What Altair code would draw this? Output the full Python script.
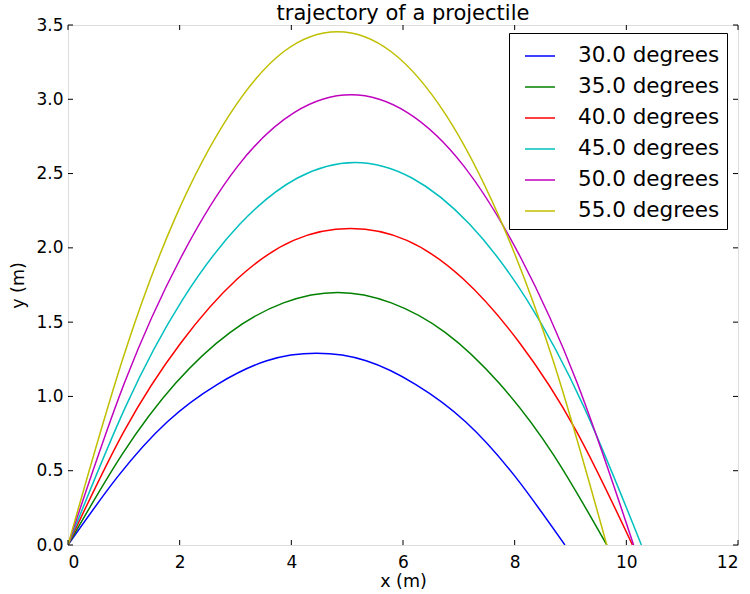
import altair as alt
import pandas as pd

labels = ["30.0 degrees", "35.0 degrees", "40.0 degrees", "45.0 degrees", "50.0 degrees", "55.0 degrees"]
colors = ["#0000ff", "#008000", "#ff0000", "#00bfbf", "#bf00bf", "#bfbf00"]

x30 = [0, 0.89, 1.78, 2.67, 3.56, 4.45, 5.34, 6.23, 7.12, 8.01, 8.90]
y30 = [0, 0.46, 0.83, 1.08, 1.24, 1.29, 1.24, 1.08, 0.83, 0.46, 0]
x35 = [0, 0.97, 1.93, 2.90, 3.86, 4.83, 5.79, 6.76, 7.72, 8.69, 9.65]
y35 = [0, 0.61, 1.09, 1.43, 1.63, 1.70, 1.63, 1.43, 1.09, 0.61, 0]
x40 = [0, 1.01, 2.02, 3.03, 4.04, 5.06, 6.07, 7.08, 8.09, 9.10, 10.11]
y40 = [0, 0.77, 1.36, 1.79, 2.05, 2.13, 2.05, 1.79, 1.36, 0.77, 0]
x45 = [0, 1.03, 2.05, 3.08, 4.11, 5.14, 6.16, 7.19, 8.22, 9.24, 10.27]
y45 = [0, 0.93, 1.65, 2.16, 2.47, 2.575, 2.47, 2.16, 1.65, 0.93, 0]
x50 = [0, 1.01, 2.03, 3.04, 4.05, 5.07, 6.08, 7.09, 8.10, 9.12, 10.13]
y50 = [0, 1.09, 1.94, 2.55, 2.91, 3.03, 2.91, 2.55, 1.94, 1.09, 0]
x55 = [0, 0.97, 1.93, 2.90, 3.86, 4.83, 5.79, 6.76, 7.72, 8.69, 9.65]
y55 = [0, 1.24, 2.21, 2.90, 3.32, 3.455, 3.32, 2.90, 2.21, 1.24, 0]

x_ticks = [0, 2, 4, 6, 8, 10, 12]
y_ticks = [0, 0.5, 1.0, 1.5, 2.0, 2.5, 3.0, 3.5]

series = [(x30, y30), (x35, y35), (x40, y40), (x45, y45), (x50, y50), (x55, y55)]
rows = []
for lab, (xs, ys) in zip(labels, series):
    for i, (xv, yv) in enumerate(zip(xs, ys)):
        rows.append({"x": xv, "y": yv, "angle": lab, "order": i})
df = pd.DataFrame(rows)

W, H = 670, 520
FONT = "DejaVu Sans"

xscale = alt.Scale(domain=[0, 12], nice=False)
yscale = alt.Scale(domain=[0, 3.5], nice=False)

lines = alt.Chart(df).mark_line(strokeWidth=1.5, interpolate="natural", clip=True).encode(
    x=alt.X("x:Q", scale=xscale, title="x (m)",
            axis=alt.Axis(values=x_ticks, format=".0f", ticks=False, domain=False, grid=False,
                          labelFontSize=17, labelFont=FONT, labelColor="black", labelPadding=9,
                          titleFontSize=17.5, titleFont=FONT, titleFontWeight="normal",
                          titleColor="black", titlePadding=2)),
    y=alt.Y("y:Q", scale=yscale, title="y (m)",
            axis=alt.Axis(values=y_ticks, format=".1f", ticks=False, domain=False, grid=False,
                          labelFontSize=17, labelFont=FONT, labelColor="black", labelPadding=5,
                          titleFontSize=17.5, titleFont=FONT, titleFontWeight="normal",
                          titleColor="black", titlePadding=8)),
    color=alt.Color("angle:N", scale=alt.Scale(domain=labels, range=colors),
                    legend=alt.Legend(title=None, orient="none", legendX=441, legendY=8,
                                      symbolType="stroke", symbolSize=900, symbolStrokeWidth=1.5,
                                      symbolOffset=8,
                                      labelFontSize=21.5, labelFont=FONT, labelColor="black",
                                      labelOffset=22, rowPadding=4, padding=7,
                                      strokeColor="black", fillColor="white", cornerRadius=0)),
    detail="angle:N",
    order="order:Q",
)

xt = pd.DataFrame({"v": x_ticks})
yt = pd.DataFrame({"v": y_ticks})

tick_bottom = alt.Chart(xt).mark_rule(color="black", strokeWidth=1).encode(
    x=alt.X("v:Q", scale=xscale), y=alt.value(H), y2=alt.value(H - 5))
tick_top = alt.Chart(xt).mark_rule(color="black", strokeWidth=1).encode(
    x=alt.X("v:Q", scale=xscale), y=alt.value(0), y2=alt.value(5))
tick_left = alt.Chart(yt).mark_rule(color="black", strokeWidth=1).encode(
    y=alt.Y("v:Q", scale=yscale), x=alt.value(0), x2=alt.value(5))
tick_right = alt.Chart(yt).mark_rule(color="black", strokeWidth=1).encode(
    y=alt.Y("v:Q", scale=yscale), x=alt.value(W), x2=alt.value(W - 5))

chart = alt.layer(lines, tick_bottom, tick_top, tick_left, tick_right).properties(
    width=W, height=H,
    title=alt.TitleParams("trajectory of a projectile", fontSize=21, font=FONT,
                          fontWeight="normal", color="black", offset=2, dy=10),
    autosize=alt.AutoSizeParams(type="none"),
    padding={"left": 68, "top": 25, "right": 12, "bottom": 49},
).configure_view(stroke="black", strokeWidth=1).configure(background="white")

chart.save("out.html", embed_options={"renderer": "svg", "actions": False})
